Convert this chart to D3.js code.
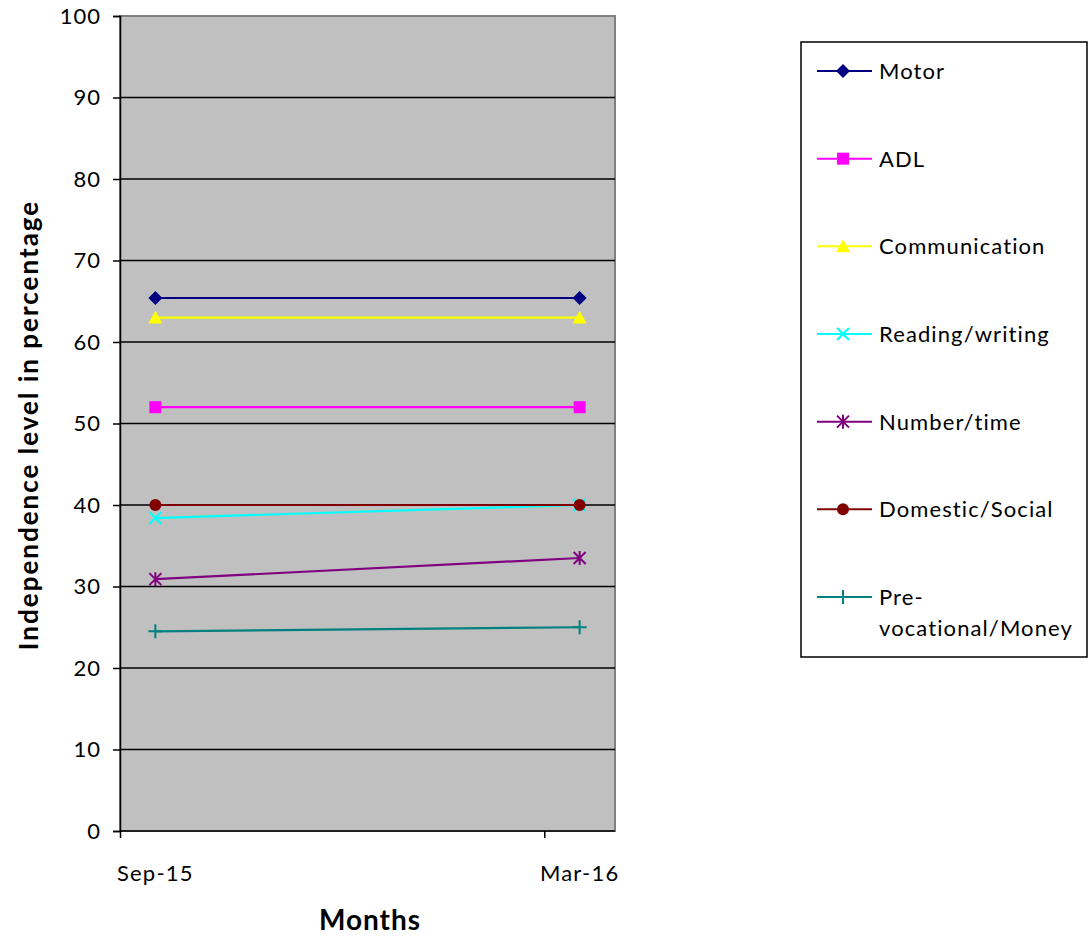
<!DOCTYPE html>
<html>
<head>
<meta charset="utf-8">
<script src="https://cdn.jsdelivr.net/npm/d3@7"></script>
<style>
  body { margin: 0; background: #fff; }
  text { font-family: Lato, "Open Sans", sans-serif; }
</style>
</head>
<body>
<svg id="chart" width="1092" height="938"></svg>
<script>
const width = 1092;
const height = 938;

// months since Sep-15, axis runs over 7 monthly slots (Sep..Mar)
const categories = ["Sep-15", "Mar-16"];
const monthIndex = [0, 6];
const monthSlots = 7;

const seriesNames = ["Motor", "ADL", "Communication", "Reading/writing",
  "Number/time", "Domestic/Social", "Pre-vocational/Money"];
const motor = [65.4, 65.4];
const adl = [52.0, 52.0];
const communication = [63.0, 63.0];
const readingWriting = [38.4, 40.0];
const numberTime = [30.9, 33.5];
const domesticSocial = [40.0, 40.0];
const preVocational = [24.5, 25.0];

const yTicks = d3.range(0, 101, 10);

const colors = ["#000080", "#ff00ff", "#ffff00", "#00ffff", "#800080", "#800000", "#008080"];
const symbols = ["diamond", "square", "triangle", "x", "star", "circle", "plus"];

const series = [motor, adl, communication, readingWriting, numberTime, domesticSocial, preVocational]
  .map((vals, i) => ({name: seriesNames[i], values: vals, color: colors[i], symbol: symbols[i]}));

const plot = {left: 120, top: 16, right: 615, bottom: 831};

const svg = d3.select("#chart");

const x = d3.scaleLinear()
    .domain([0, monthSlots])
    .range([plot.left, plot.right]);

const y = d3.scaleLinear()
    .domain([0, 100])
    .range([plot.bottom, plot.top]);

// plot background
svg.append("rect")
    .attr("x", plot.left)
    .attr("y", plot.top)
    .attr("width", plot.right - plot.left)
    .attr("height", plot.bottom - plot.top)
    .attr("fill", "#c0c0c0")
    .attr("stroke", "#808080")
    .attr("stroke-width", 2);

// gridlines
svg.append("g")
  .selectAll("line")
  .data(yTicks.filter(d => d > 0 && d < 100))
  .enter()
  .append("line")
    .attr("x1", plot.left)
    .attr("x2", plot.right)
    .attr("y1", d => y(d))
    .attr("y2", d => y(d))
    .attr("stroke", "#000")
    .attr("stroke-width", 1.5);

// y axis
const yAxis = svg.append("g")
    .attr("transform", `translate(${plot.left},0)`)
    .call(d3.axisLeft(y).tickValues(yTicks).tickSize(7).tickPadding(12));
yAxis.select(".domain").attr("stroke", "#000").attr("stroke-width", 1.5);
yAxis.selectAll(".tick line").attr("stroke", "#000").attr("stroke-width", 1.5);
yAxis.selectAll(".tick text")
    .attr("font-size", 22)
    .attr("letter-spacing", 1)
    .attr("fill", "#000")
    .style("font-family", "Lato, sans-serif");

// x axis: ticks at start of each labelled month, labels centred on the month
const xAxis = svg.append("g")
    .attr("transform", `translate(0,${plot.bottom})`)
    .call(d3.axisBottom(x).tickValues(monthIndex).tickSize(7).tickFormat(""));
xAxis.select(".domain").attr("stroke", "#000").attr("stroke-width", 1.5)
    .attr("d", `M${plot.left},0H${plot.right}`);
xAxis.selectAll(".tick line").attr("stroke", "#000").attr("stroke-width", 1.5);

svg.append("g")
  .selectAll("text")
  .data(categories)
  .enter()
  .append("text")
    .attr("x", (d, i) => x(monthIndex[i] + 0.5))
    .attr("y", plot.bottom + 50)
    .attr("text-anchor", "middle")
    .attr("font-size", 22)
    .attr("letter-spacing", 1.2)
    .text(d => d);

// axis titles
svg.append("text")
    .attr("x", 370)
    .attr("y", 930)
    .attr("text-anchor", "middle")
    .attr("font-size", 28)
    .attr("letter-spacing", 1)
    .attr("font-weight", "bold")
    .text("Months");

svg.append("text")
    .attr("transform", "translate(38,425) rotate(-90)")
    .attr("text-anchor", "middle")
    .attr("font-size", 26)
    .attr("letter-spacing", 2)
    .attr("font-weight", "bold")
    .text("Independence level in percentage");

// marker drawing
function drawMarker(sel, symbol, color) {
  if (symbol === "diamond") {
    sel.append("path").attr("d", "M0,-7L7,0L0,7L-7,0Z").attr("fill", color);
  } else if (symbol === "square") {
    sel.append("rect").attr("x", -6).attr("y", -6).attr("width", 12).attr("height", 12).attr("fill", color);
  } else if (symbol === "triangle") {
    sel.append("path").attr("d", "M0,-7L7,6L-7,6Z").attr("fill", color);
  } else if (symbol === "circle") {
    sel.append("circle").attr("r", 6).attr("fill", color);
  } else if (symbol === "x") {
    sel.append("path").attr("d", "M-6,-6L6,6M-6,6L6,-6").attr("stroke", color).attr("stroke-width", 2);
  } else if (symbol === "star") {
    sel.append("path").attr("d", "M-6,-6L6,6M-6,6L6,-6M0,-7V7").attr("stroke", color).attr("stroke-width", 2);
  } else if (symbol === "plus") {
    sel.append("path").attr("d", "M-7,0H7M0,-7V7").attr("stroke", color).attr("stroke-width", 2);
  }
}

const line = d3.line()
    .x((d, i) => x(monthIndex[i] + 0.5))
    .y(d => y(d));

const seriesG = svg.append("g")
  .selectAll("g")
  .data(series)
  .enter()
  .append("g");

seriesG.append("path")
    .attr("d", d => line(d.values))
    .attr("fill", "none")
    .attr("stroke", d => d.color)
    .attr("stroke-width", 2.2);

seriesG.each(function(s) {
  s.values.forEach((v, i) => {
    const m = d3.select(this).append("g")
        .attr("transform", `translate(${x(monthIndex[i] + 0.5)},${y(v)})`);
    drawMarker(m, s.symbol, s.color);
  });
});

// legend
const legend = svg.append("g");
legend.append("rect")
    .attr("x", 801)
    .attr("y", 42)
    .attr("width", 286)
    .attr("height", 615)
    .attr("fill", "#fff")
    .attr("stroke", "#000")
    .attr("stroke-width", 1.5);

const legendY = d3.scalePoint()
    .domain(seriesNames)
    .range([71, 597]);

const item = legend.selectAll(".item")
  .data(series)
  .enter()
  .append("g")
    .attr("class", "item")
    .attr("transform", d => `translate(0,${legendY(d.name)})`);

item.append("line")
    .attr("x1", 817)
    .attr("x2", 872)
    .attr("stroke", d => d.color)
    .attr("stroke-width", 2);

item.each(function(s) {
  const m = d3.select(this).append("g").attr("transform", "translate(843,0)");
  drawMarker(m, s.symbol, s.color);
});

item.append("text")
    .attr("x", 879)
    .attr("y", 8)
    .attr("font-size", 22)
    .attr("letter-spacing", 1.1)
    .each(function(d) {
      const t = d3.select(this);
      if (d.name === "Pre-vocational/Money") {
        t.append("tspan").attr("x", 879).text("Pre-");
        t.append("tspan").attr("x", 879).attr("dy", 31).text("vocational/Money");
      } else {
        t.text(d.name);
      }
    });
</script>
</body>
</html>
